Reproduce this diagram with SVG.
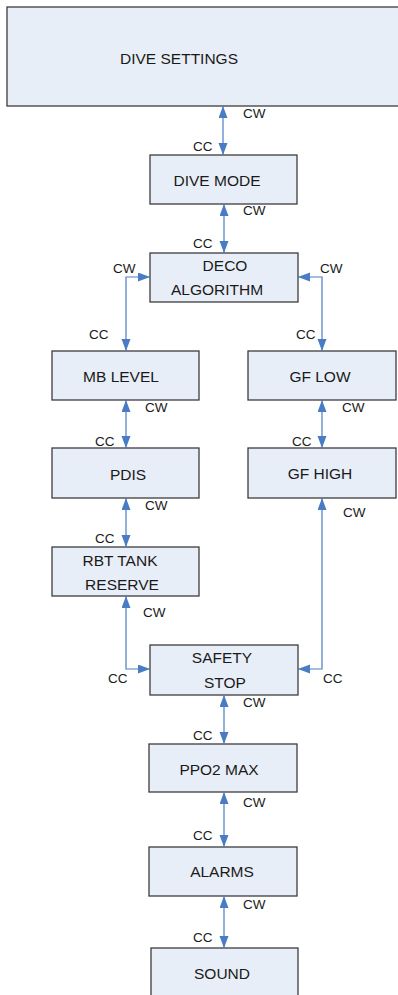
<svg xmlns="http://www.w3.org/2000/svg" width="398" height="995" viewBox="0 0 398 995">
<defs>
<marker id="ah" markerUnits="userSpaceOnUse" markerWidth="12" markerHeight="10" refX="12" refY="4.5" orient="auto-start-reverse">
<path d="M0,0 L12,4.5 L0,9 z" fill="#4a7cc4"/>
</marker>
<style>
.box{fill:#e8eef7;stroke:#3c3c3c;stroke-width:1.3}
.lbl{font-family:"Liberation Sans",Arial,sans-serif;font-size:15.5px;fill:#1a1a1a;text-anchor:middle}
.t{font-family:"Liberation Sans",Arial,sans-serif;font-size:13.5px;fill:#1a1a1a}
.c{fill:none;stroke:#4a7cc4;stroke-width:1.2;marker-start:url(#ah);marker-end:url(#ah)}
</style>
</defs>
<rect width="398" height="995" fill="#ffffff"/>
<g id="dive-settings"><rect class="box" x="7" y="7" width="400" height="99"/><text class="lbl" x="120" y="64" style="text-anchor:start">DIVE SETTINGS</text></g>
<g id="dive-mode"><rect class="box" x="150" y="155" width="147" height="49"/><text class="lbl" x="217" y="186">DIVE MODE</text></g>
<g id="deco-algorithm"><rect class="box" x="150" y="253" width="148" height="49"/><text class="lbl" x="225" y="271">DECO</text><text class="lbl" x="217" y="295">ALGORITHM</text></g>
<g id="mb-level"><rect class="box" x="52" y="351" width="147" height="49"/><text class="lbl" x="121" y="382">MB LEVEL</text></g>
<g id="gf-low"><rect class="box" x="248" y="351" width="148" height="49"/><text class="lbl" x="320" y="382">GF LOW</text></g>
<g id="pdis"><rect class="box" x="52" y="448" width="147" height="50"/><text class="lbl" x="128" y="480">PDIS</text></g>
<g id="gf-high"><rect class="box" x="248" y="448" width="148" height="50"/><text class="lbl" x="320" y="479">GF HIGH</text></g>
<g id="rbt-tank-reserve"><rect class="box" x="52" y="547" width="147" height="49"/><text class="lbl" x="120" y="566">RBT TANK</text><text class="lbl" x="122" y="590">RESERVE</text></g>
<g id="safety-stop"><rect class="box" x="150" y="645" width="148" height="50"/><text class="lbl" x="222" y="663">SAFETY</text><text class="lbl" x="225" y="688">STOP</text></g>
<g id="ppo2-max"><rect class="box" x="149" y="744" width="148" height="48"/><text class="lbl" x="219" y="775">PPO2 MAX</text></g>
<g id="alarms"><rect class="box" x="149" y="847" width="148" height="49"/><text class="lbl" x="222" y="877">ALARMS</text></g>
<g id="sound"><rect class="box" x="151" y="948" width="147" height="60"/><text class="lbl" x="222" y="979">SOUND</text></g>
<g id="connectors">
<path class="c" d="M223,106 V155"/>
<path class="c" d="M224,204 V253"/>
<path class="c" d="M150,277 H126 V351"/>
<path class="c" d="M298,277 H322 V351"/>
<path class="c" d="M126,400 V448"/>
<path class="c" d="M322,400 V448"/>
<path class="c" d="M126,498 V547"/>
<path class="c" d="M322,498 V669 H298"/>
<path class="c" d="M126,596 V669 H150"/>
<path class="c" d="M224,695 V744"/>
<path class="c" d="M224,792 V847"/>
<path class="c" d="M224,896 V948"/>
</g>
<g id="connector-labels">
<text class="t" x="243" y="118">CW</text>
<text class="t" x="193" y="151">CC</text>
<text class="t" x="243" y="215">CW</text>
<text class="t" x="193" y="248">CC</text>
<text class="t" x="113" y="273">CW</text>
<text class="t" x="89" y="339">CC</text>
<text class="t" x="320" y="273">CW</text>
<text class="t" x="296" y="339">CC</text>
<text class="t" x="145" y="412">CW</text>
<text class="t" x="95" y="446">CC</text>
<text class="t" x="342" y="412">CW</text>
<text class="t" x="292" y="446">CC</text>
<text class="t" x="145" y="510">CW</text>
<text class="t" x="95" y="543">CC</text>
<text class="t" x="343" y="517">CW</text>
<text class="t" x="143" y="617">CW</text>
<text class="t" x="108" y="683">CC</text>
<text class="t" x="323" y="683">CC</text>
<text class="t" x="243" y="707">CW</text>
<text class="t" x="193" y="740">CC</text>
<text class="t" x="243" y="807">CW</text>
<text class="t" x="193" y="840">CC</text>
<text class="t" x="243" y="909">CW</text>
<text class="t" x="193" y="942">CC</text>
</g>
</svg>
